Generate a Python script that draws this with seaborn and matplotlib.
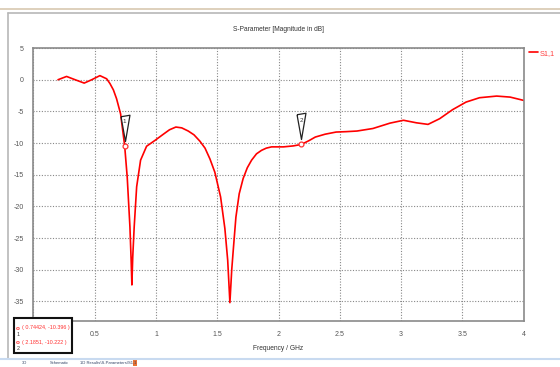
import matplotlib
matplotlib.use('Agg')
import matplotlib.pyplot as plt
import seaborn as sns
import pandas as pd
from matplotlib.lines import Line2D
from matplotlib.patches import Rectangle

sns.set_style("white")
plt.rcParams['font.family'] = ['Liberation Sans', 'DejaVu Sans']
plt.rcParams['axes.unicode_minus'] = False

# S1,1 曲线
freq = [0.20, 0.27, 0.34, 0.414, 0.475, 0.542, 0.597, 0.624, 0.652, 0.678,
        0.711, 0.744, 0.765, 0.787, 0.797, 0.803, 0.810, 0.822, 0.842, 0.874,
        0.923, 0.99, 1.06, 1.11, 1.162, 1.21, 1.263, 1.31, 1.358, 1.40,
        1.44, 1.48, 1.527, 1.562, 1.585, 1.603, 1.618, 1.63, 1.652, 1.679,
        1.711, 1.745, 1.78, 1.82, 1.861, 1.90, 1.943, 2.04, 2.12, 2.1851,
        2.25, 2.30, 2.38, 2.47, 2.55, 2.64, 2.77, 2.91, 3.02, 3.125,
        3.22, 3.315, 3.42, 3.53, 3.64, 3.78, 3.89, 4.00]
s11 = [0.00, 0.52, 0.00, -0.53, 0.00, 0.65, 0.15, -0.6, -1.6, -3.0,
       -5.4, -10.396, -15.4, -23.2, -28.5, -32.4, -28.0, -23.2, -16.9, -12.7,
       -10.5, -9.6, -8.6, -7.9, -7.47, -7.6, -8.1, -8.7, -9.7, -10.8,
       -12.5, -14.6, -18.5, -23.5, -28.5, -35.2, -30.0, -27.0, -21.7, -18.0,
       -15.6, -13.9, -12.7, -11.7, -11.15, -10.8, -10.6, -10.6, -10.45, -10.222,
       -9.6, -9.05, -8.6, -8.26, -8.2, -8.1, -7.7, -6.85, -6.4, -6.8,
       -7.05, -6.15, -4.73, -3.53, -2.84, -2.58, -2.74, -3.26]

# 标记点
marker_ids = ['1', '2']
marker_f = [0.74424, 2.1851]
marker_v = [-10.396, -10.222]

x_ticks = [0, 0.5, 1, 1.5, 2, 2.5, 3, 3.5, 4]
x_tick_labels = ['0', '0.5', '1', '1.5', '2', '2.5', '3', '3.5', '4']
y_ticks = [5, 0, -5, -10, -15, -20, -25, -30, -35]

df = pd.DataFrame({'Frequency': freq, 'S11': s11})

fig = plt.figure(figsize=(5.6, 3.67), dpi=100)
ax = fig.add_axes([0.0598, 0.1253, 0.8752, 0.7437])

sns.lineplot(data=df, x='Frequency', y='S11', sort=False, estimator=None,
             color='#ff0000', linewidth=1.2, label='S1,1', ax=ax)

ax.set_xlim(0, 4)
ax.set_ylim(-38.1, 5)
ax.set_xticks(x_ticks)
ax.set_xticklabels(x_tick_labels)
ax.set_yticks(y_ticks)
ax.set_yticklabels([str(v) for v in y_ticks])
ax.tick_params(labelsize=5, colors='#555555', length=2, width=0.8, pad=5)
ax.grid(True, linestyle=(0, (1, 1.5)), color='#888888', linewidth=0.8)
for sp in ax.spines.values():
    sp.set_color('#8a8a8a')
    sp.set_linewidth(1.2)

ax.set_title('S-Parameter [Magnitude in dB]', fontsize=4.8, color='#333333', pad=12)
ax.set_xlabel('Frequency / GHz', fontsize=4.8, color='#333333', labelpad=5)
ax.set_ylabel('')

leg = ax.legend(loc='upper left', bbox_to_anchor=(1.01, 0.995), frameon=False,
                handlelength=1.3, handletextpad=0.2, fontsize=5.3,
                borderaxespad=0, borderpad=0)
for t in leg.get_texts():
    t.set_color('#ff4040')

# 三角形标记
tri = [(-4.5, 30), (4.5, 31.5), (0, 5), (-4.5, 30)]
for mid, mf, mv in zip(marker_ids, marker_f, marker_v):
    ax.plot([mf], [mv], marker='o', markersize=3.5, markerfacecolor='white',
            markeredgecolor='#ff3030', markeredgewidth=0.9, zorder=5)
    ax.plot([mf], [mv], marker=tri, markersize=45, markerfacecolor='white',
            markeredgecolor='#222222', markeredgewidth=0.9, zorder=6)
    ax.annotate(mid, xy=(mf, mv), xytext=(0, 24), textcoords='offset pixels',
                ha='center', va='center', fontsize=4.5, color='#333333', zorder=7)

# 标记数值框
fig.add_artist(Rectangle((14 / 560, 1 - 352.7 / 367), 58 / 560, 34.7 / 367,
                         transform=fig.transFigure, facecolor='white',
                         edgecolor='#111111', linewidth=1.5, zorder=10))
for i, (mid, mf, mv) in enumerate(zip(marker_ids, marker_f, marker_v)):
    yy = 1 - (328 + i * 14.5) / 367
    fig.text(18 / 560, yy, 'o', color='#ff3030', fontsize=4.5, ha='center',
             va='center', zorder=11, fontweight='bold')
    fig.text(18.5 / 560, yy - 6 / 367, mid, color='#333333', fontsize=3.8,
             ha='center', va='center', zorder=11)
    fig.text(22 / 560, yy, f'( {mf}, {mv} )', color='#ff3030', fontsize=3.9,
             ha='left', va='center', zorder=11)

# 窗口边框与标签栏
fig.add_artist(Line2D([0, 1], [1 - 9 / 367, 1 - 9 / 367], color='#d8c8b0',
                      linewidth=1.2, transform=fig.transFigure))
fig.add_artist(Line2D([8 / 560, 1], [1 - 13 / 367, 1 - 13 / 367], color='#b8b8b8',
                      linewidth=1.2, transform=fig.transFigure))
fig.add_artist(Line2D([8 / 560, 8 / 560], [1 - 13 / 367, 1 - 358 / 367], color='#b8b8b8',
                      linewidth=1.2, transform=fig.transFigure))
fig.add_artist(Line2D([0, 1], [1 - 358.5 / 367, 1 - 358.5 / 367], color='#c8daf0',
                      linewidth=1.5, transform=fig.transFigure))
for label, px in [('3D', 22), ('Schematic', 50), ('1D Results\\S-Parameters\\S1,1', 80)]:
    fig.text(px / 560, 1 - 363 / 367, label, fontsize=3, color='#334466',
             ha='left', va='center')
fig.add_artist(Rectangle((133 / 560, 1 - 366 / 367), 4 / 560, 6 / 367,
                         transform=fig.transFigure, facecolor='#e87030',
                         edgecolor='none'))

plt.savefig('out.png', dpi=100)
